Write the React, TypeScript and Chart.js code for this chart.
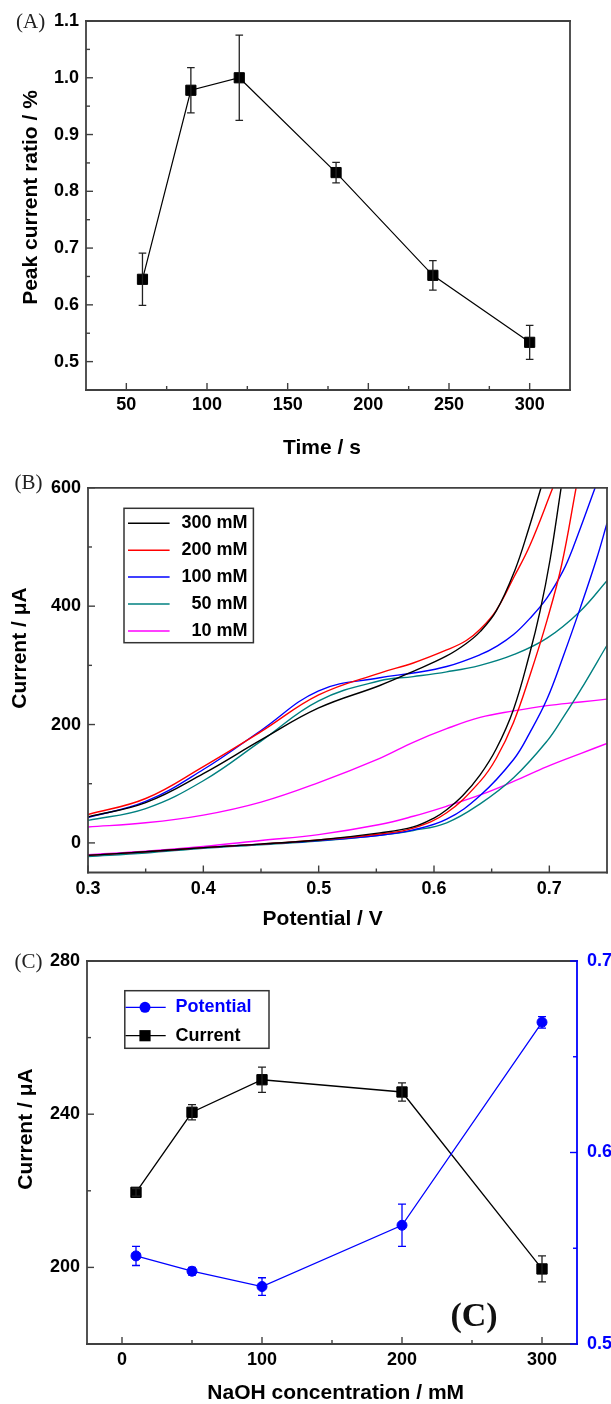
import React, { useEffect, useRef } from 'react';
import { Chart, registerables } from 'chart.js';

Chart.register(...registerables);

const SANS = "'Liberation Sans', Arial, Helvetica, sans-serif";
const SERIF = "'Liberation Serif', 'Times New Roman', serif";
const FRAME = '#404040';

// ---------------- Panel A ----------------
const timeA = [60, 90, 120, 180, 240, 300];
const ratioA = [0.645, 0.978, 1.0, 0.833, 0.652, 0.534];
const ratioErrA = [0.046, 0.04, 0.075, 0.018, 0.026, 0.03];
const xTicksA = [50, 100, 150, 200, 250, 300];
const xMinorA = [75, 125, 175, 225, 275];
const yTicksA = [0.5, 0.6, 0.7, 0.8, 0.9, 1.0, 1.1];
const yMinorA = [0.55, 0.65, 0.75, 0.85, 0.95, 1.05];

// ---------------- Panel B ----------------
const labelsB = ['300 mM', '200 mM', '100 mM', '50 mM', '10 mM'];
const colorsB = ['#000000', '#ff0000', '#0000ff', '#008080', '#ff00ff'];
const lower300: [number, number][] = [[0.3, -21], [0.35, -15], [0.4, -8], [0.45, -2], [0.5, 5], [0.553, 17], [0.582, 27], [0.6, 42], [0.611, 56], [0.625, 80], [0.64, 115], [0.654, 159], [0.669, 226], [0.683, 320], [0.692, 392], [0.7006, 478], [0.7102, 600]];
const upper300: [number, number][] = [[0.3, 44], [0.35, 68], [0.4, 117], [0.45, 174], [0.5, 228], [0.553, 266], [0.582, 290], [0.611, 316], [0.628, 337], [0.64, 357], [0.654, 392], [0.67, 460], [0.682, 530], [0.6928, 600]];
const lower200: [number, number][] = [[0.3, -21], [0.35, -15], [0.4, -8], [0.45, -2], [0.5, 5], [0.553, 15], [0.582, 25], [0.611, 51], [0.64, 104], [0.654, 143], [0.669, 204], [0.683, 282], [0.698, 376], [0.7107, 470], [0.7232, 600]];
const upper200: [number, number][] = [[0.3, 48], [0.35, 75], [0.4, 129], [0.45, 188], [0.5, 250], [0.553, 287], [0.582, 304], [0.611, 326], [0.628, 342], [0.64, 361], [0.654, 393], [0.669, 448], [0.683, 502], [0.703, 600]];
const lower100: [number, number][] = [[0.3, -21], [0.35, -15], [0.4, -8], [0.45, -2], [0.5, 4], [0.553, 13], [0.582, 22], [0.611, 40], [0.64, 80], [0.669, 141], [0.683, 186], [0.698, 243], [0.712, 315], [0.727, 398], [0.741, 480], [0.75, 540]];
const upper100: [number, number][] = [[0.3, 43], [0.35, 70], [0.4, 124], [0.45, 190], [0.5, 257], [0.553, 279], [0.582, 287], [0.611, 298], [0.64, 318], [0.655, 333], [0.669, 352], [0.683, 379], [0.698, 414], [0.712, 460], [0.7208, 500], [0.7397, 600]];
const lower50: [number, number][] = [[0.3, -23], [0.35, -17], [0.4, -9], [0.45, -3], [0.5, 3], [0.553, 13], [0.582, 21], [0.611, 34], [0.64, 66], [0.669, 110], [0.698, 172], [0.712, 212], [0.727, 258], [0.75, 334]];
const upper50: [number, number][] = [[0.3, 38], [0.35, 58], [0.4, 105], [0.45, 172], [0.5, 240], [0.553, 274], [0.582, 281], [0.611, 289], [0.64, 300], [0.669, 318], [0.698, 346], [0.727, 392], [0.75, 443]];
const lower10: [number, number][] = [[0.3, -20], [0.35, -14], [0.4, -6], [0.45, 4], [0.5, 14], [0.553, 31], [0.582, 45], [0.611, 62], [0.64, 81], [0.669, 104], [0.698, 129], [0.727, 151], [0.75, 168]];
const upper10: [number, number][] = [[0.3, 27], [0.35, 34], [0.4, 47], [0.45, 69], [0.5, 102], [0.553, 143], [0.582, 170], [0.611, 193], [0.64, 212], [0.669, 223], [0.698, 232], [0.727, 238], [0.75, 243]];
const branchesB = [[lower300, upper300], [lower200, upper200], [lower100, upper100], [lower50, upper50], [lower10, upper10]];
const xTicksB = [0.3, 0.4, 0.5, 0.6, 0.7];
const xMinorB = [0.35, 0.45, 0.55, 0.65];
const yTicksB = [0, 200, 400, 600];
const yMinorB = [100, 300, 500];

// ---------------- Panel C ----------------
const concC = [10, 50, 100, 200, 300];
const currentC = [219.6, 240.5, 249, 245.8, 199.6];
const currentErrC = [1, 2, 3.3, 2.4, 3.4];
const potentialC = [0.546, 0.538, 0.530, 0.562, 0.668];
const potentialErrC = [0.005, 0.002, 0.0046, 0.011, 0.003];
const xTicksC = [0, 100, 200, 300];
const xMinorC = [50, 150, 250];
const yTicksC = [200, 240, 280];
const yMinorC = [220, 260];
const y1TicksC = [0.5, 0.6, 0.7];
const y1MinorC = [0.55, 0.65];

// ---------------- helpers ----------------
function linAxis(min: number, max: number, ticks: number[], size: { width?: number; height?: number }, pad: number, decimals: number, color = '#000', position?: string) {
  return {
    type: 'linear',
    position,
    min,
    max,
    afterBuildTicks: (s: any) => { s.ticks = ticks.map((v) => ({ value: v })); },
    afterFit: (s: any) => {
      if (size.width != null) s.width = size.width;
      if (size.height != null) s.height = size.height;
    },
    grid: { display: false, drawTicks: false },
    border: { display: false },
    ticks: {
      font: { family: SANS, size: 18, weight: 'bold' },
      color,
      padding: pad,
      autoSkip: false,
      maxRotation: 0,
      minRotation: 0,
      callback: (v: any) => Number(v).toFixed(decimals),
    },
  };
}

type TickSpec = { axis: string; side: 'bottom' | 'left' | 'right'; major: number[]; minor: number[]; color: string };

function framePlugin(edges: { side: string; color: string }[], tickSpecs: TickSpec[]) {
  return {
    id: 'frame',
    afterDraw(chart: any) {
      const { ctx, chartArea: a } = chart;
      ctx.save();
      ctx.lineWidth = 1.8;
      ctx.lineCap = 'square';
      for (const e of edges) {
        ctx.strokeStyle = e.color;
        ctx.beginPath();
        if (e.side === 'bottom') { ctx.moveTo(a.left, a.bottom); ctx.lineTo(a.right, a.bottom); }
        if (e.side === 'top') { ctx.moveTo(a.left, a.top); ctx.lineTo(a.right, a.top); }
        if (e.side === 'left') { ctx.moveTo(a.left, a.top); ctx.lineTo(a.left, a.bottom); }
        if (e.side === 'right') { ctx.moveTo(a.right, a.top); ctx.lineTo(a.right, a.bottom); }
        ctx.stroke();
      }
      ctx.lineCap = 'butt';
      ctx.lineWidth = 1.4;
      for (const t of tickSpecs) {
        const sc = chart.scales[t.axis];
        ctx.strokeStyle = t.color;
        const draw = (v: number, len: number) => {
          const p = sc.getPixelForValue(v);
          ctx.beginPath();
          if (t.side === 'bottom') { ctx.moveTo(p, a.bottom); ctx.lineTo(p, a.bottom - len); }
          if (t.side === 'left') { ctx.moveTo(a.left, p); ctx.lineTo(a.left + len, p); }
          if (t.side === 'right') { ctx.moveTo(a.right, p); ctx.lineTo(a.right - len, p); }
          ctx.stroke();
        };
        t.major.forEach((v) => draw(v, 7));
        t.minor.forEach((v) => draw(v, 4));
      }
      ctx.restore();
    },
  };
}

type TextItem = { text: string; x: number; y: number; font: string; color?: string; align?: CanvasTextAlign; rotate?: number };

function textPlugin(items: TextItem[]) {
  return {
    id: 'texts',
    afterDraw(chart: any) {
      const ctx = chart.ctx;
      for (const t of items) {
        ctx.save();
        ctx.translate(t.x, t.y);
        if (t.rotate) ctx.rotate(t.rotate);
        ctx.font = t.font;
        ctx.fillStyle = t.color ?? '#000';
        ctx.textAlign = t.align ?? 'center';
        ctx.textBaseline = 'middle';
        ctx.fillText(t.text, 0, 0);
        ctx.restore();
      }
    },
  };
}

const errorBarPlugin = {
  id: 'errbars',
  afterDatasetsDraw(chart: any) {
    const ctx = chart.ctx;
    chart.data.datasets.forEach((ds: any, i: number) => {
      if (!ds.errorBars) return;
      const meta = chart.getDatasetMeta(i);
      const ys = chart.scales[meta.yAxisID];
      const cap = ds.capHalf ?? 4;
      ctx.save();
      ctx.strokeStyle = ds.errorColor ?? '#000';
      ctx.lineWidth = 1.3;
      meta.data.forEach((pt: any, j: number) => {
        const raw = ds.data[j];
        const e = ds.errorBars[j];
        const yt = ys.getPixelForValue(raw.y + e);
        const yb = ys.getPixelForValue(raw.y - e);
        const x = pt.x;
        ctx.beginPath();
        ctx.moveTo(x, yt); ctx.lineTo(x, yb);
        ctx.moveTo(x - cap, yt); ctx.lineTo(x + cap, yt);
        ctx.moveTo(x - cap, yb); ctx.lineTo(x + cap, yb);
        ctx.stroke();
      });
      ctx.restore();
    });
  },
};

const baseOptions = {
  animation: false,
  responsive: false,
  devicePixelRatio: 1,
  events: [],
};

// ---------------- Panel A config ----------------
function buildA() {
  return {
    type: 'scatter',
    data: {
      datasets: [{
        label: 'Peak current ratio',
        data: timeA.map((x, i) => ({ x, y: ratioA[i] })),
        showLine: true,
        borderColor: '#000',
        borderWidth: 1.2,
        backgroundColor: '#000',
        pointStyle: 'rect',
        pointRadius: 7.2,
        pointBorderWidth: 1,
        pointBorderColor: '#000',
        pointBackgroundColor: '#000',
        errorBars: ratioErrA,
        errorColor: '#222',
        capHalf: 3.8,
      }],
    },
    options: {
      ...baseOptions,
      layout: { padding: { left: 0, right: 41, top: 21, bottom: 0 } },
      plugins: { legend: { display: false }, tooltip: { enabled: false } },
      scales: {
        x: linAxis(25, 325, xTicksA, { height: 80 }, 4, 0),
        y: linAxis(0.45, 1.1, yTicksA, { width: 86 }, 7, 1),
      },
    },
    plugins: [
      errorBarPlugin,
      framePlugin(
        [{ side: 'bottom', color: FRAME }, { side: 'left', color: FRAME }, { side: 'top', color: FRAME }, { side: 'right', color: FRAME }],
        [
          { axis: 'x', side: 'bottom', major: xTicksA, minor: xMinorA, color: FRAME },
          { axis: 'y', side: 'left', major: yTicksA, minor: yMinorA, color: FRAME },
        ],
      ),
      textPlugin([
        { text: '(A)', x: 16, y: 22.5, font: `21px ${SERIF}`, align: 'left', color: '#222' },
        { text: 'Peak current ratio / %', x: 31, y: 197.5, font: `bold 21px ${SANS}`, rotate: -Math.PI / 2 },
        { text: 'Time / s', x: 322, y: 448, font: `bold 21px ${SANS}` },
      ]),
    ],
  };
}

// ---------------- Panel B config ----------------
const legendBPlugin = {
  id: 'legendB',
  afterDraw(chart: any) {
    const ctx = chart.ctx;
    ctx.save();
    ctx.fillStyle = '#fff';
    ctx.fillRect(124, 38.3, 129.4, 134.4);
    ctx.strokeStyle = '#333';
    ctx.lineWidth = 1.5;
    ctx.strokeRect(124, 38.3, 129.4, 134.4);
    const entries = chart.data.datasets.filter((ds: any) => ds.inLegend);
    entries.forEach((ds: any, i: number) => {
      const y = 53.3 + i * 26.9;
      ctx.strokeStyle = ds.borderColor;
      ctx.lineWidth = 1.5;
      ctx.beginPath();
      ctx.moveTo(128, y);
      ctx.lineTo(169.6, y);
      ctx.stroke();
      ctx.fillStyle = '#000';
      ctx.font = `bold 18px ${SANS}`;
      ctx.textAlign = 'right';
      ctx.textBaseline = 'middle';
      ctx.fillText(ds.label, 247.6, y);
    });
    ctx.restore();
  },
};

function buildB() {
  const datasets: any[] = [];
  branchesB.forEach(([lo, up], i) => {
    [lo, up].forEach((branch, k) => {
      datasets.push({
        label: labelsB[i],
        inLegend: k === 0,
        data: branch.map(([x, y]) => ({ x, y })),
        showLine: true,
        borderColor: colorsB[i],
        backgroundColor: colorsB[i],
        borderWidth: 1.4,
        pointRadius: 0,
        pointHoverRadius: 0,
        tension: 0.4,
      });
    });
  });
  return {
    type: 'scatter',
    data: { datasets },
    options: {
      ...baseOptions,
      layout: { padding: { left: 0, right: 4, top: 12.5, bottom: 0 } },
      plugins: { legend: { display: false }, tooltip: { enabled: false } },
      scales: {
        x: linAxis(0.3, 0.75, xTicksB, { height: 57.5 }, 6, 1),
        y: linAxis(-50, 600, yTicksB, { width: 88 }, 7, 0),
      },
    },
    plugins: [
      framePlugin(
        [{ side: 'bottom', color: FRAME }, { side: 'left', color: FRAME }, { side: 'top', color: FRAME }, { side: 'right', color: FRAME }],
        [
          { axis: 'x', side: 'bottom', major: xTicksB, minor: xMinorB, color: FRAME },
          { axis: 'y', side: 'left', major: yTicksB, minor: yMinorB, color: FRAME },
        ],
      ),
      legendBPlugin,
      textPlugin([
        { text: '(B)', x: 14.5, y: 13, font: `21px ${SERIF}`, align: 'left', color: '#222' },
        { text: 'Current / \u03bcA', x: 20.5, y: 178, font: `bold 21px ${SANS}`, rotate: -Math.PI / 2 },
        { text: 'Potential / V', x: 322.7, y: 449, font: `bold 21px ${SANS}` },
      ]),
    ],
  };
}

// ---------------- Panel C config ----------------
const legendCPlugin = {
  id: 'legendC',
  afterDraw(chart: any) {
    const ctx = chart.ctx;
    ctx.save();
    ctx.fillStyle = '#fff';
    ctx.fillRect(124.8, 60.7, 144.2, 57.6);
    ctx.strokeStyle = '#333';
    ctx.lineWidth = 1.5;
    ctx.strokeRect(124.8, 60.7, 144.2, 57.6);
    chart.data.datasets.forEach((ds: any, i: number) => {
      const y = 77.3 + i * 28.4;
      const c = ds.borderColor;
      ctx.strokeStyle = c;
      ctx.lineWidth = 1.3;
      ctx.beginPath();
      ctx.moveTo(125.5, y);
      ctx.lineTo(165.7, y);
      ctx.stroke();
      ctx.fillStyle = c;
      if (ds.pointStyle === 'rect') {
        ctx.fillRect(145 - 5.6, y - 5.6, 11.2, 11.2);
      } else {
        ctx.beginPath();
        ctx.arc(145, y, 5.5, 0, Math.PI * 2);
        ctx.fill();
      }
      ctx.fillStyle = c;
      ctx.font = `bold 18px ${SANS}`;
      ctx.textAlign = 'left';
      ctx.textBaseline = 'middle';
      ctx.fillText(ds.label, 175.4, y);
    });
    ctx.restore();
  },
};

function buildC() {
  return {
    type: 'scatter',
    data: {
      datasets: [
        {
          label: 'Potential',
          yAxisID: 'y1',
          data: concC.map((x, i) => ({ x, y: potentialC[i] })),
          showLine: true,
          borderColor: '#0000ff',
          backgroundColor: '#0000ff',
          borderWidth: 1.3,
          pointStyle: 'circle',
          pointRadius: 5,
          pointBorderWidth: 1,
          pointBorderColor: '#0000ff',
          pointBackgroundColor: '#0000ff',
          errorBars: potentialErrC,
          errorColor: '#0000ff',
          capHalf: 4,
        },
        {
          label: 'Current',
          yAxisID: 'y',
          data: concC.map((x, i) => ({ x, y: currentC[i] })),
          showLine: true,
          borderColor: '#000000',
          backgroundColor: '#000000',
          borderWidth: 1.3,
          pointStyle: 'rect',
          pointRadius: 7.3,
          pointBorderWidth: 1,
          pointBorderColor: '#000',
          pointBackgroundColor: '#000',
          errorBars: currentErrC,
          errorColor: '#222',
          capHalf: 4,
        },
      ],
    },
    options: {
      ...baseOptions,
      layout: { padding: { left: 0, right: 0, top: 31, bottom: 0 } },
      plugins: { legend: { display: false }, tooltip: { enabled: false } },
      scales: {
        x: linAxis(-25, 325, xTicksC, { height: 60 }, 5, 0),
        y: linAxis(180, 280, yTicksC, { width: 87 }, 7, 0, '#000', 'left'),
        y1: linAxis(0.5, 0.7, y1TicksC, { width: 34 }, 10, 1, '#0000ff', 'right'),
      },
    },
    plugins: [
      errorBarPlugin,
      framePlugin(
        [{ side: 'bottom', color: FRAME }, { side: 'left', color: FRAME }, { side: 'top', color: FRAME }, { side: 'right', color: '#0000ff' }],
        [
          { axis: 'x', side: 'bottom', major: xTicksC, minor: xMinorC, color: FRAME },
          { axis: 'y', side: 'left', major: yTicksC, minor: yMinorC, color: FRAME },
          { axis: 'y1', side: 'right', major: y1TicksC, minor: y1MinorC, color: '#0000ff' },
        ],
      ),
      legendCPlugin,
      textPlugin([
        { text: '(C)', x: 14.5, y: 32, font: `21px ${SERIF}`, align: 'left', color: '#222' },
        { text: 'Current / \u03bcA', x: 26, y: 199, font: `bold 21px ${SANS}`, rotate: -Math.PI / 2 },
        { text: 'NaOH concentration / mM', x: 335.7, y: 463, font: `bold 21px ${SANS}` },
        { text: '(C)', x: 474, y: 387, font: `bold 34px ${SERIF}`, color: '#111' },
      ]),
    ],
  };
}

function ChartBox({ top, height, build }: { top: number; height: number; build: () => any }) {
  const ref = useRef<HTMLCanvasElement | null>(null);
  useEffect(() => {
    if (!ref.current) return;
    const chart = new Chart(ref.current, build());
    return () => chart.destroy();
  }, [build]);
  return (
    <canvas
      ref={ref}
      width={611}
      height={height}
      style={{ position: 'absolute', left: 0, top, width: 611, height, display: 'block' }}
    />
  );
}

export default function App() {
  return (
    <div style={{ position: 'absolute', left: 0, top: 0, width: 611, height: 1404, background: '#fff', overflow: 'hidden' }}>
      <ChartBox top={0} height={470} build={buildA} />
      <ChartBox top={470} height={460} build={buildB} />
      <ChartBox top={930} height={474} build={buildC} />
    </div>
  );
}
